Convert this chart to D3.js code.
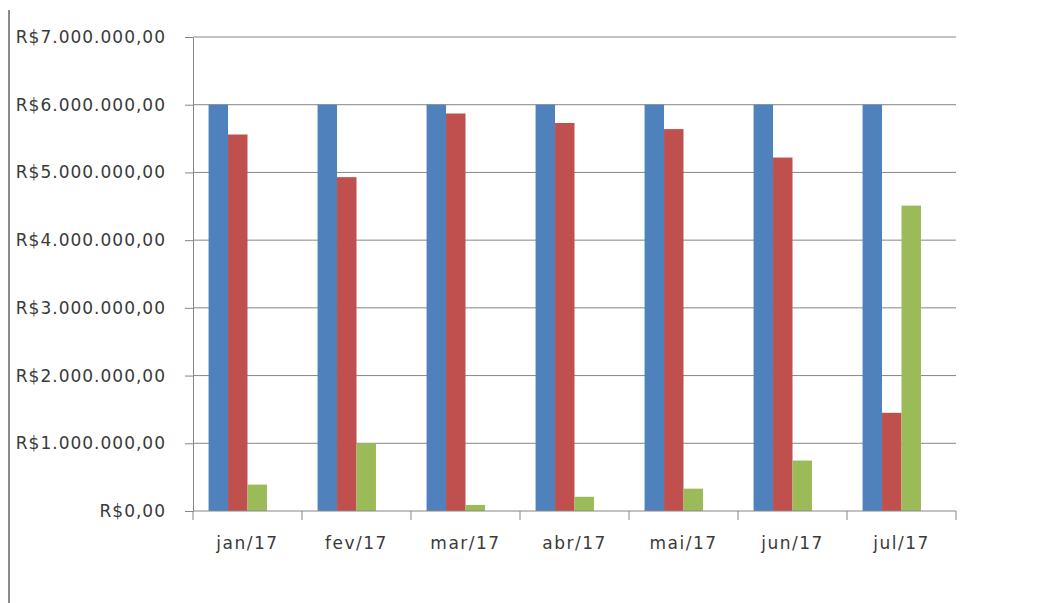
<!DOCTYPE html>
<html>
<head>
<meta charset="utf-8">
<script src="https://cdn.jsdelivr.net/npm/d3@7"></script>
<style>
	body { margin: 0; background: #fff; }
	.chart text { font-family: "DejaVu Sans", sans-serif; fill: #3a3a3a; }
	.axis path, .axis line { stroke: #868686; }
</style>
</head>
<body>
<div class="chart"></div>
<script>
var months = ["jan/17", "fev/17", "mar/17", "abr/17", "mai/17", "jun/17", "jul/17"];
var series = ["s1", "s2", "s3"];
var blueValues = [6000000, 6000000, 6000000, 6000000, 6000000, 6000000, 6000000];
var redValues = [5560000, 4930000, 5870000, 5730000, 5640000, 5220000, 1450000];
var greenValues = [390000, 1000000, 90000, 210000, 330000, 745000, 4510000];
var yTicks = [0, 1000000, 2000000, 3000000, 4000000, 5000000, 6000000, 7000000];
var colors = ["#4F81BD", "#C0504D", "#9BBB59"];

var data = months.map(function(m, i){
	return {month: m, values: [blueValues[i], redValues[i], greenValues[i]]};
});

function brl(d){
	var s = d3.format(",.2f")(d);
	return "R$" + s.replace(/,/g, "#").replace(".", ",").replace(/#/g, ".");
}

function drawChart() {
	var sel = d3.select(".chart").html("");
	var width = 1044, height = 603;

	var svg = sel.append("svg")
		.attr("width", width)
		.attr("height", height);

	var margin = {top: 37, right: 88, bottom: 92, left: 193};
	var w = width - margin.left - margin.right;
	var h = height - margin.top - margin.bottom;

	// outer border line on the left
	svg.append("line")
		.attr("x1", 9).attr("x2", 9)
		.attr("y1", 10).attr("y2", height)
		.style("stroke", "#8c8c8c")
		.style("stroke-width", 2);

	var x0 = d3.scaleBand().domain(months).range([0, w]);
	// four slots per month, last one empty
	var x1 = d3.scaleBand().domain(d3.range(4)).range([0, x0.bandwidth()]).paddingOuter(0.8);
	var y = d3.scaleLinear().domain([0, 7000000]).range([h, 0]);

	var g = svg.append("g").attr("transform", "translate(" + margin.left + "," + margin.top + ")");

	g.append("g")
		.selectAll("line")
		.data(yTicks.slice(1))
		.enter().append("line")
		.attr("x1", 0).attr("x2", w)
		.attr("y1", d => y(d)).attr("y2", d => y(d))
		.style("stroke", "#868686");

	var groups = g.selectAll(".grp")
		.data(data)
		.enter().append("g")
		.attr("transform", d => "translate(" + x0(d.month) + ",0)");

	groups.selectAll("rect")
		.data(d => d.values.map((v, i) => ({v: v, i: i})))
		.enter().append("rect")
		.attr("x", d => x1(d.i))
		.attr("width", x1.bandwidth())
		.attr("y", d => y(d.v))
		.attr("height", d => h - y(d.v))
		.style("fill", d => colors[d.i]);

	var yAxis = d3.axisLeft(y).tickValues(yTicks).tickFormat(brl).tickSizeInner(8).tickSizeOuter(0).tickPadding(19);
	g.append("g").attr("class", "axis")
		.call(yAxis)
		.selectAll("text")
		.style("font-size", "17px")
		.style("letter-spacing", "1px");

	var xBound = months.map(m => x0(m)).concat([w]);
	var xa = g.append("g").attr("class", "axis").attr("transform", "translate(0," + h + ")");
	xa.append("line").attr("x1", 0).attr("x2", w);
	xa.selectAll(".tk").data(xBound).enter().append("line")
		.attr("x1", d => d).attr("x2", d => d).attr("y1", 0).attr("y2", 9);
	xa.selectAll("text").data(months).enter().append("text")
		.attr("x", d => x0(d) + x0.bandwidth() / 2)
		.attr("y", 38)
		.attr("text-anchor", "middle")
		.style("font-size", "17px")
		.style("letter-spacing", "1.5px")
		.text(d => d);
}

drawChart();
</script>
</body>
</html>
